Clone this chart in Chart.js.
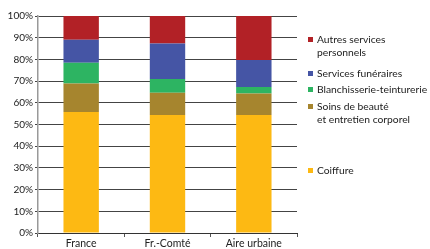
<!DOCTYPE html>
<html>
<head>
<meta charset="utf-8">
<script src="https://cdn.jsdelivr.net/npm/chart.js@4"></script>
<style>
  body { margin: 0; background: #fff; font-family: Lato, "Open Sans", sans-serif; }
  #wrap { position: relative; width: 430px; height: 249px; }
  #legend { position: absolute; left: 0; top: 0; }
  .item { position: absolute; left: 308px; font-size: 10.3px; color: #222; line-height: 13px; white-space: nowrap; }
  .item i { position: absolute; left: 0; top: 4px; width: 5px; height: 5px; }
  .item span { position: absolute; left: 9px; top: 0; }
</style>
</head>
<body>
<div id="wrap">
  <canvas id="c" width="430" height="249"></canvas>
  <div id="legend"></div>
</div>
<script>
// --- Data ---
const categories = ["France", "Fr.-Comté", "Aire urbaine"];
const coiffure = [55.8, 54.4, 54.4];
const soins = [13.1, 10.2, 9.9];
const blanchisserie = [9.6, 6.4, 3.0];
const funeraires = [10.6, 16.3, 12.4];
const autres = [10.9, 12.7, 20.3];
const yTicks = [0, 10, 20, 30, 40, 50, 60, 70, 80, 90, 100];

// --- Series styles ---
const series = [
  { label: "Coiffure", data: coiffure, color: "#FDB913", legendTop: 164, lines: ["Coiffure"] },
  { label: "Soins de beauté et entretien corporel", data: soins, color: "#A6852E", legendTop: 100, lines: ["Soins de beauté", "et entretien corporel"] },
  { label: "Blanchisserie-teinturerie", data: blanchisserie, color: "#2DB462", legendTop: 83, lines: ["Blanchisserie-teinturerie"] },
  { label: "Services funéraires", data: funeraires, color: "#4555A5", legendTop: 67, lines: ["Services funéraires"] },
  { label: "Autres services personnels", data: autres, color: "#B22126", legendTop: 33, lines: ["Autres services", "personnels"] }
];

// --- HTML legend (irregular spacing as in the original) ---
const legendEl = document.getElementById("legend");
series.forEach(s => {
  const div = document.createElement("div");
  div.className = "item";
  div.style.top = s.legendTop + "px";
  div.innerHTML = `<i style="background:${s.color}"></i><span>${s.lines.join("<br>")}</span>`;
  legendEl.appendChild(div);
});

// --- Chart ---
new Chart(document.getElementById("c"), {
  type: "bar",
  data: {
    labels: categories,
    datasets: series.map(s => ({
      label: s.label,
      data: s.data,
      backgroundColor: s.color,
      borderWidth: 0,
      categoryPercentage: 1,
      barPercentage: 0.41
    }))
  },
  options: {
    responsive: false,
    animation: false,
    layout: { padding: { top: 16, right: 133, left: 0, bottom: 0 } },
    plugins: { legend: { display: false }, tooltip: { enabled: false } },
    scales: {
      x: {
        stacked: true,
        afterFit: s => { s.height = 16; },
        grid: { drawOnChartArea: false, drawTicks: true, offset: true, tickLength: 4, color: "#555" },
        border: { color: "#333", width: 1 },
        ticks: { color: "#222", font: { family: "Lato", size: 10.5 }, padding: 0 }
      },
      y: {
        stacked: true,
        min: 0,
        max: 100,
        afterFit: s => { s.width = 38; },
        afterBuildTicks: s => { s.ticks = yTicks.map(v => ({ value: v })); },
        grid: { color: "#444", lineWidth: 1, tickLength: 3 },
        border: { color: "#999", width: 1.5 },
        ticks: {
          color: "#222",
          padding: 2,
          font: { family: "Lato", size: 10 },
          callback: v => v + "%"
        }
      }
    }
  }
});
</script>
</body>
</html>
